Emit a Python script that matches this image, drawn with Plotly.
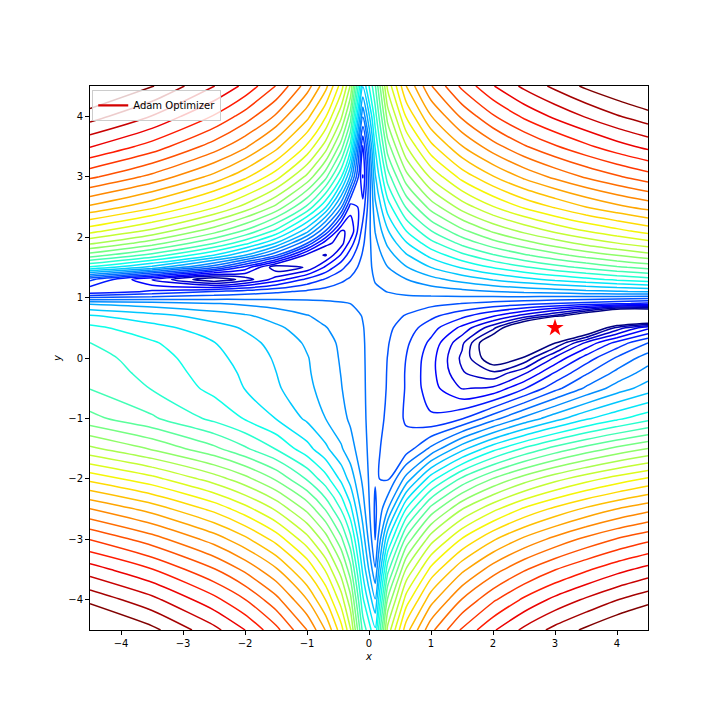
import plotly.graph_objects as go

# Node positions of a hand-typed table of contour heights.
x_nodes = [-4.5, -3.5, -2.5, -2, -1.5, -1, -0.7, -0.45, -0.3, -0.1,
           0.1, 0.3, 0.6, 1, 1.5, 2, 2.5, 3, 3.5, 4, 4.5]
y_nodes = [-4.5, -4, -3.5, -3, -2.5, -2, -1.5, -1, -0.5, -0.25, 0, 0.25, 0.5, 0.7, 0.9,
           1.1, 1.3, 1.5, 1.7, 1.9, 2.1, 2.5, 3, 3.5, 4, 4.5]

# log10 of the surface height at each node: estimates, typed as literals.
# The picture looks like the Beale test surface, so the estimates lean on that.
log_height = [
 [5.26,5.04,4.75,4.56,4.31,3.97,3.67,3.30,2.97,2.16,1.79,2.84,3.47,3.93,4.29,4.54,4.74,4.90,5.03,5.15,5.25],
 [4.96,4.75,4.46,4.27,4.02,3.68,3.38,3.02,2.70,1.94,1.48,2.52,3.16,3.62,3.98,4.24,4.44,4.60,4.73,4.85,4.95],
 [4.63,4.42,4.13,3.94,3.70,3.36,3.07,2.72,2.41,1.73,1.19,2.15,2.81,3.28,3.64,3.90,4.10,4.26,4.39,4.51,4.61],
 [4.26,4.04,3.76,3.57,3.33,3.00,2.72,2.39,2.11,1.55,1.02,1.74,2.40,2.88,3.25,3.51,3.71,3.87,4.01,4.13,4.23],
 [3.83,3.62,3.34,3.15,2.92,2.61,2.34,2.05,1.81,1.39,1.00,1.31,1.92,2.41,2.79,3.05,3.26,3.42,3.56,3.68,3.78],
 [3.34,3.14,2.87,2.70,2.48,2.19,1.97,1.73,1.56,1.29,1.04,1.01,1.38,1.85,2.24,2.51,2.72,2.89,3.03,3.15,3.26],
 [2.83,2.63,2.39,2.23,2.05,1.82,1.65,1.49,1.38,1.229,1.079,0.96,0.95,1.21,1.57,1.86,2.08,2.26,2.41,2.54,2.65],
 [2.40,2.23,2.02,1.90,1.76,1.59,1.47,1.37,1.30,1.202,1.101,1.00,0.86,0.76,0.87,1.12,1.36,1.56,1.74,1.88,2.01],
 [2.20,2.05,1.87,1.76,1.64,1.51,1.41,1.33,1.27,1.194,1.109,1.019,0.87,0.65,0.43,0.47,0.72,0.98,1.20,1.39,1.54],
 [2.16,2.01,1.84,1.74,1.62,1.49,1.40,1.32,1.267,1.192,1.111,1.022,0.87,0.64,0.31,0.18,0.42,0.75,1.01,1.22,1.39],
 [2.12,1.98,1.81,1.71,1.60,1.48,1.39,1.31,1.26,1.19,1.112,1.027,0.88,0.65,0.26,-0.15,0.02,0.47,0.80,1.05,1.25],
 [2.06,1.93,1.77,1.67,1.57,1.45,1.37,1.30,1.25,1.187,1.116,1.04,0.91,0.70,0.33,-0.25,-0.80,-0.01,0.47,0.79,1.03],
 [1.95,1.82,1.68,1.60,1.50,1.40,1.33,1.27,1.235,1.181,1.123,1.06,0.96,0.80,0.55,0.20,-0.41,-2.0,-0.41,0.20,0.55],
 [1.78,1.67,1.55,1.49,1.41,1.33,1.28,1.24,1.21,1.172,1.132,1.089,1.02,0.92,0.78,0.61,0.39,0.12,-0.28,-0.89,-0.89],
 [1.451,1.392,1.33,1.298,1.263,1.228,1.206,1.187,1.176,1.16,1.144,1.128,1.103,1.07,1.025,0.979,0.929,0.878,0.822,0.763,0.70],
 [0.61,0.76,0.89,0.95,1.00,1.056,1.086,1.110,1.125,1.143,1.161,1.179,1.21,1.24,1.28,1.32,1.36,1.39,1.43,1.46,1.49],
 [0.92,0.43,0.0,0.21,0.51,0.77,0.90,1.00,1.05,1.12,1.183,1.24,1.32,1.42,1.53,1.63,1.72,1.80,1.87,1.94,2.00],
 [1.89,1.57,1.07,0.68,0.19,0.31,0.62,0.84,0.95,1.09,1.21,1.32,1.46,1.62,1.78,1.92,2.04,2.15,2.24,2.33,2.40],
 [2.43,2.15,1.76,1.47,1.05,0.38,0.28,0.61,0.82,1.05,1.24,1.40,1.60,1.81,2.02,2.19,2.33,2.45,2.56,2.65,2.74],
 [2.82,2.57,2.21,1.96,1.61,1.04,0.49,0.37,0.65,1.00,1.28,1.50,1.75,2.01,2.25,2.44,2.59,2.72,2.84,2.94,3.03],
 [3.14,2.90,2.56,2.33,2.02,1.52,1.02,0.43,0.46,0.95,1.33,1.60,1.91,2.20,2.46,2.67,2.83,2.97,3.09,3.19,3.29],
 [3.65,3.42,3.11,2.89,2.61,2.18,1.78,1.21,0.66,0.79,1.43,1.83,2.22,2.56,2.86,3.08,3.26,3.40,3.53,3.64,3.73],
 [4.15,3.93,3.63,3.42,3.15,2.76,2.40,1.93,1.44,0.58,1.60,2.13,2.59,2.97,3.29,3.52,3.71,3.86,3.99,4.10,4.20],
 [4.57,4.35,4.05,3.85,3.58,3.21,2.87,2.43,2.00,0.72,1.78,2.43,2.93,3.34,3.67,3.91,4.10,4.25,4.38,4.50,4.60],
 [4.92,4.70,4.40,4.20,3.95,3.58,3.25,2.83,2.43,1.19,1.99,2.71,3.25,3.67,4.00,4.25,4.44,4.59,4.72,4.84,4.94],
 [5.23,5.01,4.71,4.52,4.26,3.90,3.58,3.17,2.78,1.63,2.19,2.98,3.53,3.96,4.30,4.55,4.74,4.89,5.03,5.14,5.24],
]

minimum_x = [3]
minimum_y = [0.5]
tick_values = [-4, -3, -2, -1, 0, 1, 2, 3, 4]
tick_labels = ["\u22124", "\u22123", "\u22122", "\u22121", "0", "1", "2", "3", "4"]

jet = [[0, "#000080"], [0.11, "#0000ff"], [0.125, "#0000ff"], [0.34, "#00d8ff"], [0.375, "#06ffee"],
       [0.64, "#f1fc06"], [0.66, "#ffea00"], [0.89, "#ff1300"], [0.91, "#ee0000"], [1, "#800000"]]

fig = go.Figure()
fig.add_trace(go.Contour(
    x=x_nodes, y=y_nodes, z=log_height,
    colorscale=jet, zmin=0, zmax=5, autocontour=False, showscale=False, hoverinfo="skip",
    contours=dict(start=0, end=5, size=5 / 34, coloring="lines"),
    line=dict(width=1.5, smoothing=0.8),
))
fig.add_trace(go.Scatter(x=[None], y=[None], mode="lines", name="Adam Optimizer",
                         line=dict(color="#d40000", width=2.2)))
fig.add_trace(go.Scatter(x=minimum_x, y=minimum_y, mode="markers", showlegend=False,
                         marker=dict(symbol="star", size=13, color="#ff0000", line=dict(width=0))))

axis = dict(range=[-4.5, 4.5], tickmode="array", tickvals=tick_values, ticktext=tick_labels,
            ticks="outside", ticklen=4, tickwidth=1, tickcolor="black", showgrid=False, zeroline=False,
            showline=True, mirror=True, linecolor="black", linewidth=1,
            tickfont=dict(size=10, color="black"))
fig.update_layout(
    width=720, height=720, autosize=False, showlegend=True,
    margin=dict(l=90, r=72, t=86, b=90, pad=0),
    paper_bgcolor="white", plot_bgcolor="white",
    font=dict(family="DejaVu Sans", size=10, color="black"),
    xaxis=dict(axis, title=dict(text="<i>x</i>", standoff=4, font=dict(size=10))),
    yaxis=dict(axis, title=dict(text="<i>y</i>", standoff=4, font=dict(size=10))),
    legend=dict(x=0.004, y=0.993, xanchor="left", yanchor="top", bgcolor="rgba(255,255,255,0.8)",
                bordercolor="#cccccc", borderwidth=1, font=dict(size=10)),
)
fig.write_html("out.html", config={"displayModeBar": False},
               post_script="document.body.style.margin='0';")
